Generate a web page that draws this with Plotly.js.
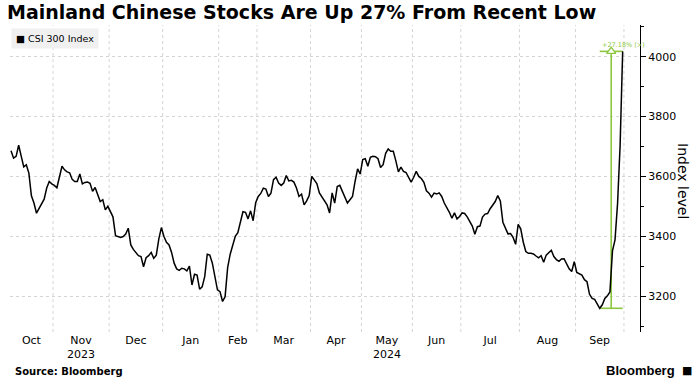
<!DOCTYPE html>
<html><head><meta charset="utf-8">
<script src="https://cdn.plot.ly/plotly-3.0.1.min.js"></script>
<style>html,body{margin:0;padding:0;background:#fff}#chart{width:694px;height:386px}</style>
</head><body><div id="chart"></div>
<script>
// ---- data (CSI 300 daily closes, trading days only) ----
const monthLabels = ['Oct','Nov','Dec','Jan','Feb','Mar','Apr','May','Jun','Jul','Aug','Sep'];
const yearLabels = {Nov: '2023', May: '2024'};
const oct23 = [3686, 3661, 3667, 3704, 3668, 3632, 3639, 3611, 3535, 3511, 3477, 3492, 3507, 3524, 3561, 3583, 3575];
const nov23 = [3570, 3562, 3598, 3634, 3622, 3615, 3612, 3590, 3583, 3583, 3608, 3575, 3580, 3581, 3577, 3550, 3563, 3539, 3516, 3522, 3488, 3500];
const dec23 = [3483, 3465, 3402, 3399, 3396, 3399, 3407, 3427, 3371, 3356, 3346, 3335, 3332, 3298, 3328, 3335, 3346, 3326, 3337, 3391, 3429];
const jan24 = [3399, 3380, 3371, 3346, 3310, 3291, 3286, 3293, 3291, 3284, 3300, 3237, 3273, 3270, 3223, 3231, 3265, 3340, 3337, 3310, 3259, 3221];
const feb24 = [3215, 3182, 3198, 3295, 3340, 3372, 3400, 3412, 3450, 3482, 3480, 3458, 3485, 3452, 3512];
const mar24 = [3533, 3543, 3561, 3558, 3533, 3544, 3589, 3597, 3578, 3570, 3578, 3603, 3585, 3587, 3581, 3561, 3533, 3541, 3505, 3518, 3536];
const apr24 = [3600, 3588, 3576, 3545, 3532, 3515, 3505, 3478, 3545, 3511, 3566, 3570, 3552, 3533, 3511, 3522, 3533, 3583, 3625, 3608];
const may24 = [3656, 3659, 3634, 3664, 3667, 3666, 3659, 3630, 3639, 3677, 3692, 3684, 3684, 3652, 3615, 3631, 3617, 3613, 3598, 3581];
const jun24 = [3597, 3617, 3600, 3593, 3580, 3552, 3544, 3531, 3544, 3541, 3545, 3533, 3511, 3496, 3480, 3460, 3478, 3458, 3466];
const jul24 = [3478, 3476, 3465, 3451, 3434, 3407, 3432, 3434, 3464, 3474, 3476, 3492, 3503, 3516, 3536, 3518, 3447, 3425, 3408, 3409, 3396, 3373, 3440];
const aug24 = [3425, 3380, 3349, 3343, 3343, 3341, 3334, 3328, 3335, 3313, 3337, 3346, 3353, 3332, 3322, 3316, 3324, 3325, 3306, 3291, 3282, 3315];
const sep24 = [3279, 3273, 3270, 3255, 3248, 3206, 3192, 3189, 3175, 3159.25, 3171, 3192, 3201, 3214, 3351, 3388, 3510, 3704, 4017.85];
const yTicks = [3200, 3400, 3600, 3800, 4000];

const months = [oct23, nov23, dec23, jan24, feb24, mar24, apr24, may24, jun24, jul24, aug24, sep24];
const csi300 = months.flat();
const xIdx = csi300.map((_, i) => i);

// month label positions (centre of month) and boundaries (gridlines)
const mids = [], bounds = [];
let s = 0;
months.forEach((m, k) => {
  if (k > 0) bounds.push(s - 0.5);
  mids.push(s + (m.length - 1) / 2);
  s += m.length;
});
bounds.push(s - 0.5);
const tickText = monthLabels.map(m => yearLabels[m] ? m + '<br>' + yearLabels[m] : m);

// recent low -> last
let lowIdx = 0;
csi300.forEach((v, i) => { if (v < csi300[lowIdx]) lowIdx = i; });
const lastIdx = csi300.length - 1;
const lowVal = csi300[lowIdx], lastVal = csi300[lastIdx];
const midIdx = (lowIdx + lastIdx) / 2;
const pct = ((lastVal / lowVal - 1) * 100).toFixed(2);

const green = '#8dc63f';
const gridColor = '#d4d4d4';
const traces = [
  {x: [lowIdx, lastIdx], y: [lowVal, lowVal], mode: 'lines', line: {color: green, width: 1.6}, hoverinfo: 'skip'},
  {x: [lowIdx, lastIdx], y: [lastVal, lastVal], mode: 'lines', line: {color: green, width: 1.6}, hoverinfo: 'skip'},
  {x: [midIdx, midIdx], y: [lowVal, lastVal], mode: 'lines', line: {color: green, width: 1.6}, hoverinfo: 'skip'},
  {x: xIdx, y: csi300, mode: 'lines', line: {color: '#000', width: 1.5}, name: 'CSI 300 Index'},
  {x: [midIdx], y: [lastVal], mode: 'markers', marker: {symbol: 'triangle-up', size: 8, color: '#fff', line: {color: green, width: 1.3}}, hoverinfo: 'skip'}
];

// vertical month gridlines
const shapes = bounds.map(b => ({
  type: 'line', xref: 'x', yref: 'paper', x0: b, x1: b, y0: 0, y1: 1,
  line: {color: gridColor, width: 1, dash: 'dot'}, layer: 'below'
}));

// pixel helpers for annotations outside plot area (plot area: x 10..640, y 25..332)
const L = 10, R = 640, T = 25, B = 332;
const px = v => (v - L) / (R - L);
const py = v => (B - v) / (B - T);

const font = 'DejaVu Sans, sans-serif';
const layout = {
  width: 694, height: 386,
  margin: {l: L, r: 694 - R, t: T, b: 386 - B, pad: 0},
  paper_bgcolor: '#fff', plot_bgcolor: '#fff',
  showlegend: false,
  shapes: shapes,
  title: {
    text: '<b>Mainland Chinese Stocks Are Up 27% From Recent Low</b>',
    font: {family: font, size: 19, color: '#000'},
    xref: 'container', yref: 'container', x: 7 / 694, xanchor: 'left', y: 1 - 12 / 386, yanchor: 'middle'
  },
  xaxis: {
    range: [-0.4, 246.8], fixedrange: true,
    tickmode: 'array', tickvals: mids, ticktext: tickText,
    showgrid: false, zeroline: false, showline: false, ticks: '',
    tickfont: {family: font, size: 11, color: '#000'}
  },
  yaxis: {
    side: 'right', range: [3080, 4106], fixedrange: true,
    tickmode: 'array', tickvals: yTicks,
    ticks: 'outside', ticklen: 5, tickcolor: '#000', tickwidth: 1,
    showline: true, linecolor: '#000', linewidth: 1,
    showgrid: true, gridcolor: gridColor, griddash: 'dot', gridwidth: 1,
    zeroline: false,
    tickfont: {family: font, size: 11, color: '#000'},
    minor: {ticks: 'outside', ticklen: 3, tick0: 3100, dtick: 100, tickcolor: '#000', showgrid: false}
  },
  annotations: [
    {xref: 'paper', yref: 'paper', x: px(11), y: py(28), xanchor: 'left', yanchor: 'top',
     text: '■ CSI 300 Index', showarrow: false, bgcolor: '#f0f0f0', borderpad: 4,
     font: {family: font, size: 9.5, color: '#000'}},
    {xref: 'paper', yref: 'paper', x: px(683), y: py(181), xanchor: 'center', yanchor: 'middle',
     text: 'Index level', textangle: 90, showarrow: false,
     font: {family: font, size: 14, color: '#000'}},
    {xref: 'x', yref: 'y', x: lowIdx, y: lastVal, xanchor: 'left', yanchor: 'bottom',
     text: '+' + pct + '% (>)', showarrow: false,
     font: {family: font, size: 6.5, color: green}},
    {xref: 'paper', yref: 'paper', x: px(13), y: py(371), xanchor: 'left', yanchor: 'middle',
     text: '<b>Source: Bloomberg</b>', showarrow: false,
     font: {family: font, size: 10, color: '#000'}},
    {xref: 'paper', yref: 'paper', x: px(677), y: py(370), xanchor: 'right', yanchor: 'middle',
     text: '<b>Bloomberg</b>', showarrow: false,
     font: {family: 'Liberation Sans, sans-serif', size: 13, color: '#000'}},
    {xref: 'paper', yref: 'paper', x: px(680), y: py(370), xanchor: 'left', yanchor: 'middle',
     text: '■', showarrow: false,
     font: {family: font, size: 11, color: '#000'}}
  ]
};

Plotly.newPlot('chart', traces, layout, {staticPlot: true, displayModeBar: false});
</script>
</body></html>
